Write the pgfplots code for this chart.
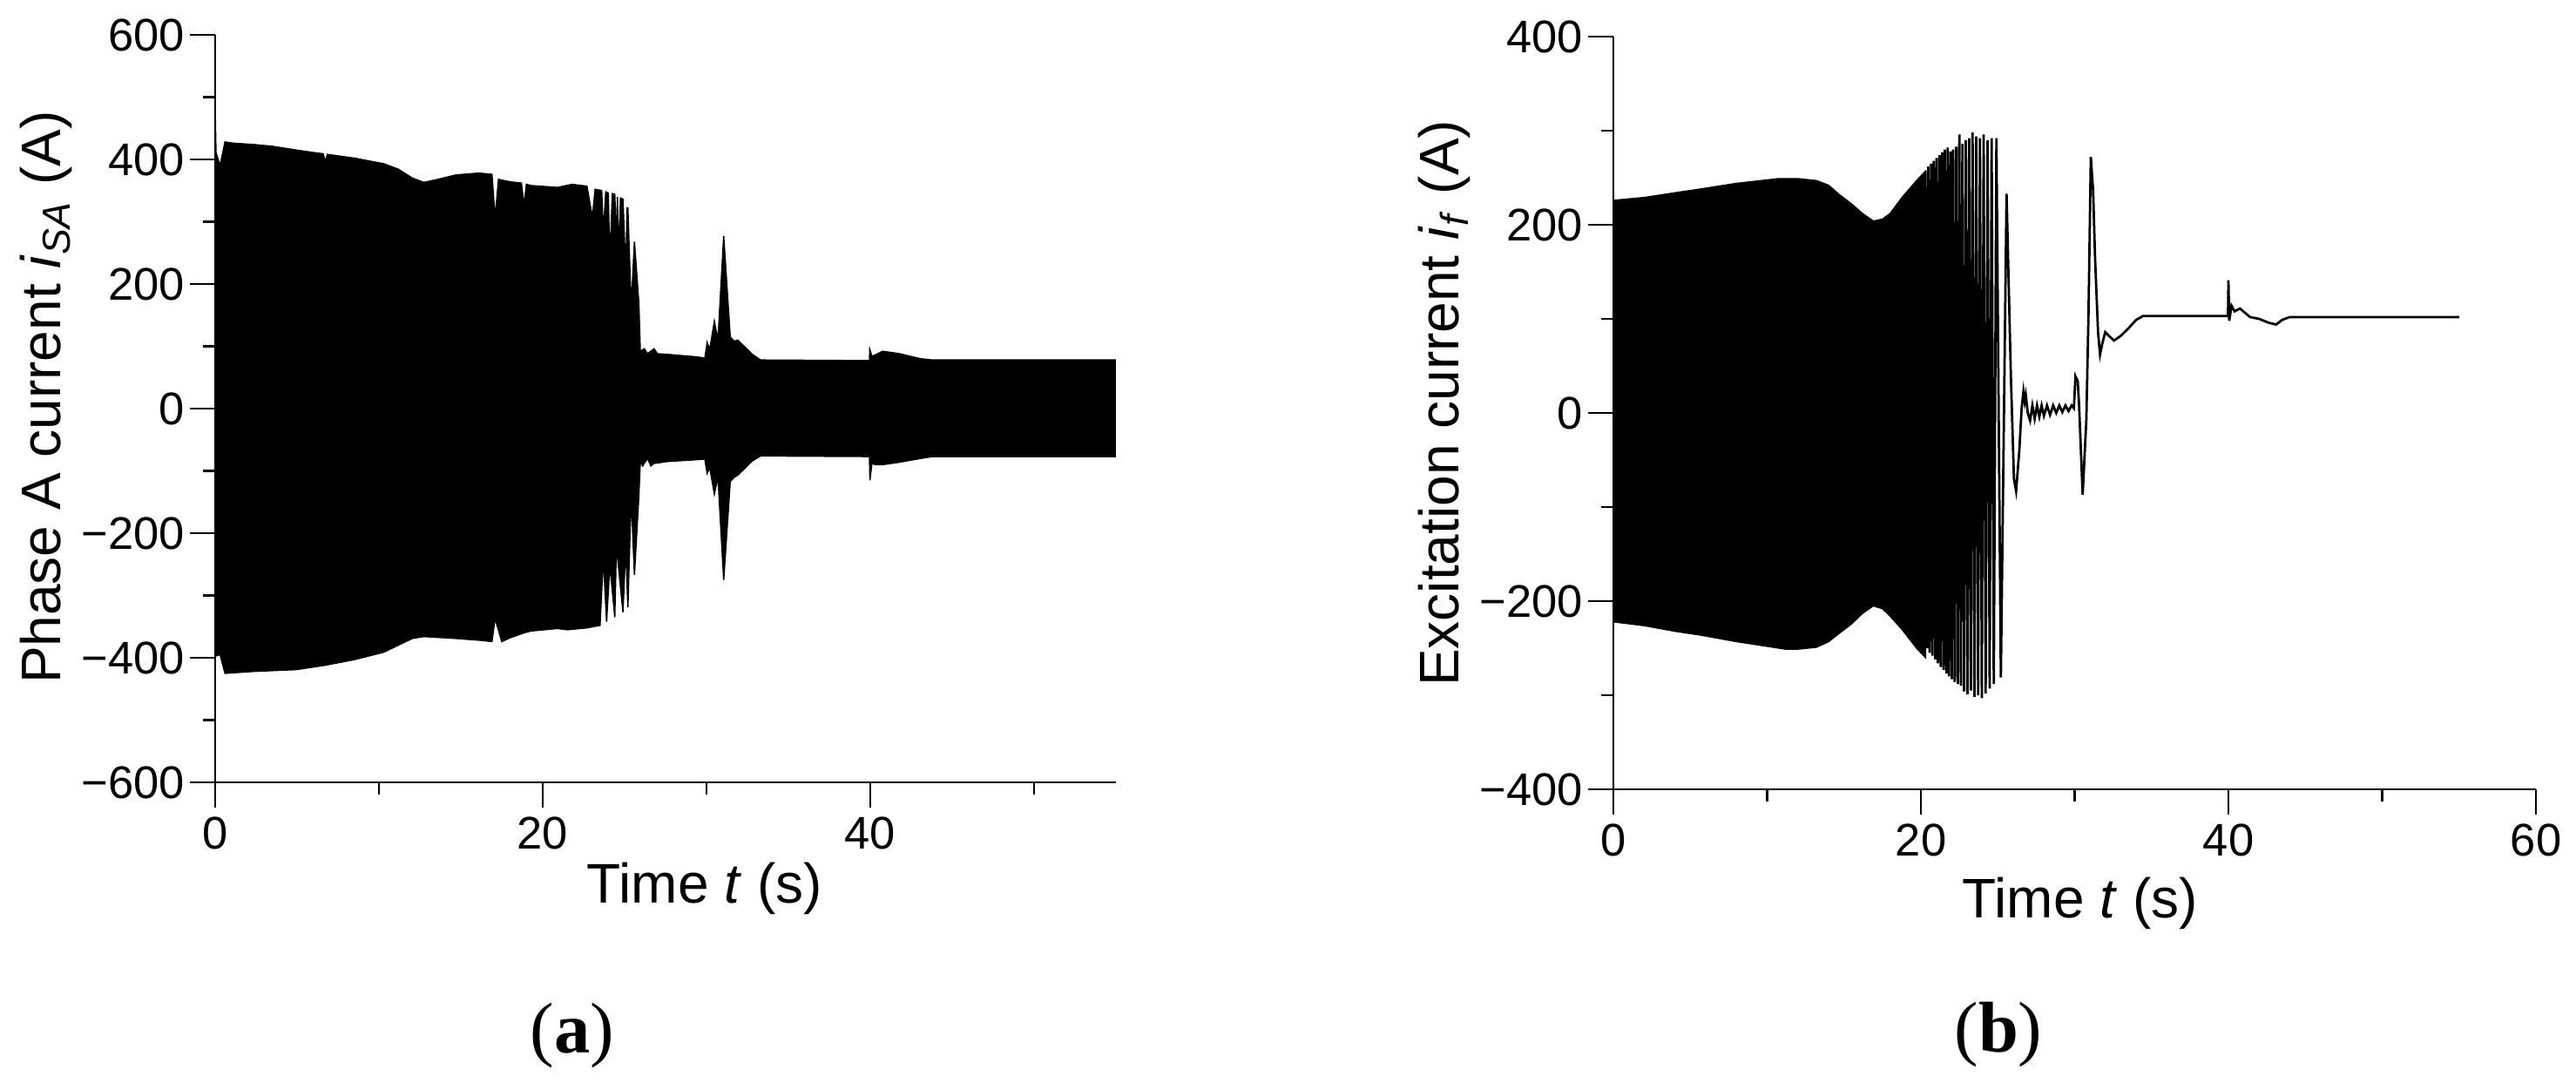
\documentclass[border=0pt]{standalone}
\usepackage{fontspec}
\setmainfont{Liberation Sans}
\newfontfamily\capfont{Liberation Serif}
\usepackage{pgfplots}
\pgfplotsset{compat=1.18}
\pgfplotsset{
  panel/.style={
    scale only axis,
    axis x line=bottom, axis y line=left,
    axis line style={-, line width=0.5pt},
    every tick/.style={black, line width=0.5pt},
    tick align=outside,
    major tick length=5.8pt, minor tick length=2.8pt,
    tick label style={font=\fontsize{10.5}{12}\selectfont},
    xticklabel style={inner sep=2pt},
    yticklabel style={inner sep=1pt},
    /pgf/number format/assume math mode=true,
    clip=true,
  }
}
\begin{document}
\begin{tikzpicture}
\useasboundingbox (0,0) rectangle (591.4pt,249.8pt);
% ---------------- (a) ----------------
\begin{axis}[panel,
  at={(49.4pt,70.2pt)}, anchor=south west,
  width=206.8pt, height=171.6pt,
  xmin=0, xmax=55, ymin=-600, ymax=600,
  xtick={0,20,40}, minor xtick={10,30,50},
  ytick={-600,-400,-200,0,200,400,600},
  yticklabels={−600,−400,−200,0,200,400,600},
  minor ytick={-500,-300,-100,100,300,500},
  xlabel={Time \textit{t} (s)},
  ylabel={Phase A current \textit{i}\textsubscript{\textit{SA}} (A)},
  every axis x label/.style={at={(axis description cs:0.5435,-0.1422)}, anchor=center, font=\fontsize{12.8}{15}\selectfont},
  every axis y label/.style={at={(axis description cs:-0.1876,0.515)}, anchor=center, rotate=90, font=\fontsize{12.8}{15}\selectfont},
]
\addplot[fill=black, draw=black, line width=0.3pt] coordinates {
(0,-390) (0,480) (0.05,411) (0.3,390) (0.6,428) (1.1,426) (2.3,424) (3.5,421) (4.95,415) (6.0,411) (6.6,409) (6.72,396) (6.85,408) (8.5,402) (10.3,393) (11.2,384) (12.04,370) (12.75,363) (13.6,368) (14.7,375) (16.1,378) (16.9,376) (17.09,306) (17.3,368) (18.0,364) (18.7,362) (18.86,325) (19.0,360) (19.3,358) (20.9,355) (21.8,360) (22.7,357) (23.03,307) (23.2,352) (23.6,350) (23.7,283) (23.85,348) (24.0,346) (24.1,236) (24.25,345) (24.4,344) (24.5,264) (24.56,340) (24.63,242) (24.75,338) (24.9,336) (25.07,217) (25.15,322) (25.2,322) (25.4,162) (25.6,268) (25.87,169) (25.96,92) (26.2,96) (26.4,88) (26.6,92) (26.8,96) (27.0,88) (27.6,87) (28.5,85) (29.4,83) (29.9,81) (30.04,106) (30.2,95) (30.48,140) (30.7,110) (31.05,277) (31.45,115) (31.7,108) (31.9,110) (32.3,100) (32.8,87) (33.3,78) (39.95,77) (39.97,95) (40.1,84) (40.3,86) (40.76,92) (41.8,88) (43.07,80) (43.8,78) (55,78)
(55,-77) (43.8,-77) (43.07,-80) (41.8,-86) (40.76,-90) (40.3,-90) (40.1,-88) (39.98,-115) (39.95,-77) (33.3,-76) (32.8,-84) (32.3,-97) (31.9,-107) (31.7,-110) (31.45,-117) (31.05,-275) (30.7,-110) (30.48,-137) (30.2,-95) (30.04,-104) (29.9,-81) (29.4,-82) (27.6,-85) (26.8,-88) (26.6,-92) (26.4,-80) (26.1,-92) (25.96,-84) (25.87,-140) (25.6,-267) (25.4,-140) (25.2,-319) (25.07,-220) (24.9,-327) (24.5,-220) (24.4,-335) (24.1,-250) (23.9,-342) (23.7,-239) (23.5,-348) (22.7,-352) (21.5,-355) (20.9,-353) (19.3,-357) (18.86,-360) (18.0,-368) (17.5,-374) (17.09,-337) (16.9,-374) (16.2,-372) (14.7,-369) (12.75,-366) (12.04,-369) (10.3,-391) (8.5,-403) (6.72,-412) (4.95,-419) (2.3,-422) (0.6,-425) (0.3,-395) (0.05,-397) (0,-390)
};
\end{axis}
% ---------------- (b) ----------------
\begin{axis}[panel,
  at={(370.4pt,68.6pt)}, anchor=south west,
  width=211.8pt, height=172.8pt,
  xmin=0, xmax=60, ymin=-400, ymax=400,
  xtick={0,20,40,60}, minor xtick={10,30,50},
  ytick={-400,-200,0,200,400},
  yticklabels={−400,−200,0,200,400},
  minor ytick={-300,-100,100,300},
  xlabel={Time \textit{t} (s)},
  ylabel={Excitation current \textit{i}\textsubscript{\textit{f}} (A)},
  every axis x label/.style={at={(axis description cs:0.506,-0.1516)}, anchor=center, font=\fontsize{12.8}{15}\selectfont},
  every axis y label/.style={at={(axis description cs:-0.1837,0.513)}, anchor=center, rotate=90, font=\fontsize{12.8}{15}\selectfont},
]
\addplot[fill=black, draw=black, line width=0.3pt] coordinates {
(0,-222) (0,226) (2,229) (4,234) (5.65,238) (8,244) (10.7,249) (12,249) (13.2,247) (14,242) (14.7,232) (15.5,222) (16.2,212) (16.9,204) (17.5,206) (18.0,212) (18.77,229) (19.72,247) (20.3,257)
(20.3,-260) (19.72,-250) (18.77,-230) (18.0,-216) (17.5,-208) (16.9,-205) (16.2,-213) (15.5,-224) (14.7,-234) (14,-243) (13.2,-249) (12,-251) (11.2,-251) (10,-248) (8,-243) (5.65,-236) (4,-232) (2,-226) (0,-222)
};
\addplot[black, line width=0.55pt] coordinates {
(20.3,257) (20.39,-250) (20.48,262) (20.57,-255) (20.66,265) (20.75,-258) (20.84,268) (20.93,-262) (21.02,271) (21.11,-266) (21.20,274) (21.29,-270) (21.38,277) (21.47,-273) (21.56,280) (21.65,-277) (21.74,282) (21.83,-280) (21.92,278) (22.01,-283) (22.10,280) (22.20,-286) (22.30,283) (22.40,-288) (22.50,296) (22.60,-290) (22.70,286) (22.81,-296) (22.92,290) (23.03,-299) (23.14,292) (23.25,-295) (23.36,298) (23.48,-302) (23.60,294) (23.72,-300) (23.84,292) (23.96,-303) (24.08,296) (24.21,-298) (24.34,290) (24.47,-293) (24.60,292) (24.74,-288) (24.91,292) (25.2,-281) (25.57,233) (25.85,40) (26.05,-70) (26.19,-83) (26.4,-40) (26.55,5) (26.67,23) (26.75,12) (26.82,19) (26.95,0) (27.1,-8) (27.25,8) (27.4,-6) (27.55,8) (27.7,-4) (27.85,8) (28.0,-3) (28.2,8) (28.4,-2) (28.6,8) (28.8,0) (29.0,8) (29.2,1) (29.4,8) (29.6,2) (29.8,8) (29.95,5) (30.05,39) (30.2,34) (30.29,7) (30.52,-87) (30.76,-7) (30.9,106) (31.05,272) (31.2,236) (31.33,163) (31.52,86) (31.65,62) (31.8,74) (31.99,86) (32.22,82) (32.56,77) (33.0,82) (33.5,90) (34.0,99) (34.44,103) (39.97,103) (40.0,141) (40.05,98) (40.2,114) (40.4,108) (40.75,111) (41.4,102) (42.0,100) (42.6,96) (43.1,94) (43.5,99) (44.0,102) (55,102)
};
\end{axis}
\node[font=\capfont\fontsize{16.5}{19}\selectfont] at (131.4pt,12pt) {(\textbf{a})};
\node[font=\capfont\fontsize{16.5}{19}\selectfont] at (458.8pt,12.2pt) {(\textbf{b})};
\end{tikzpicture}
\end{document}
